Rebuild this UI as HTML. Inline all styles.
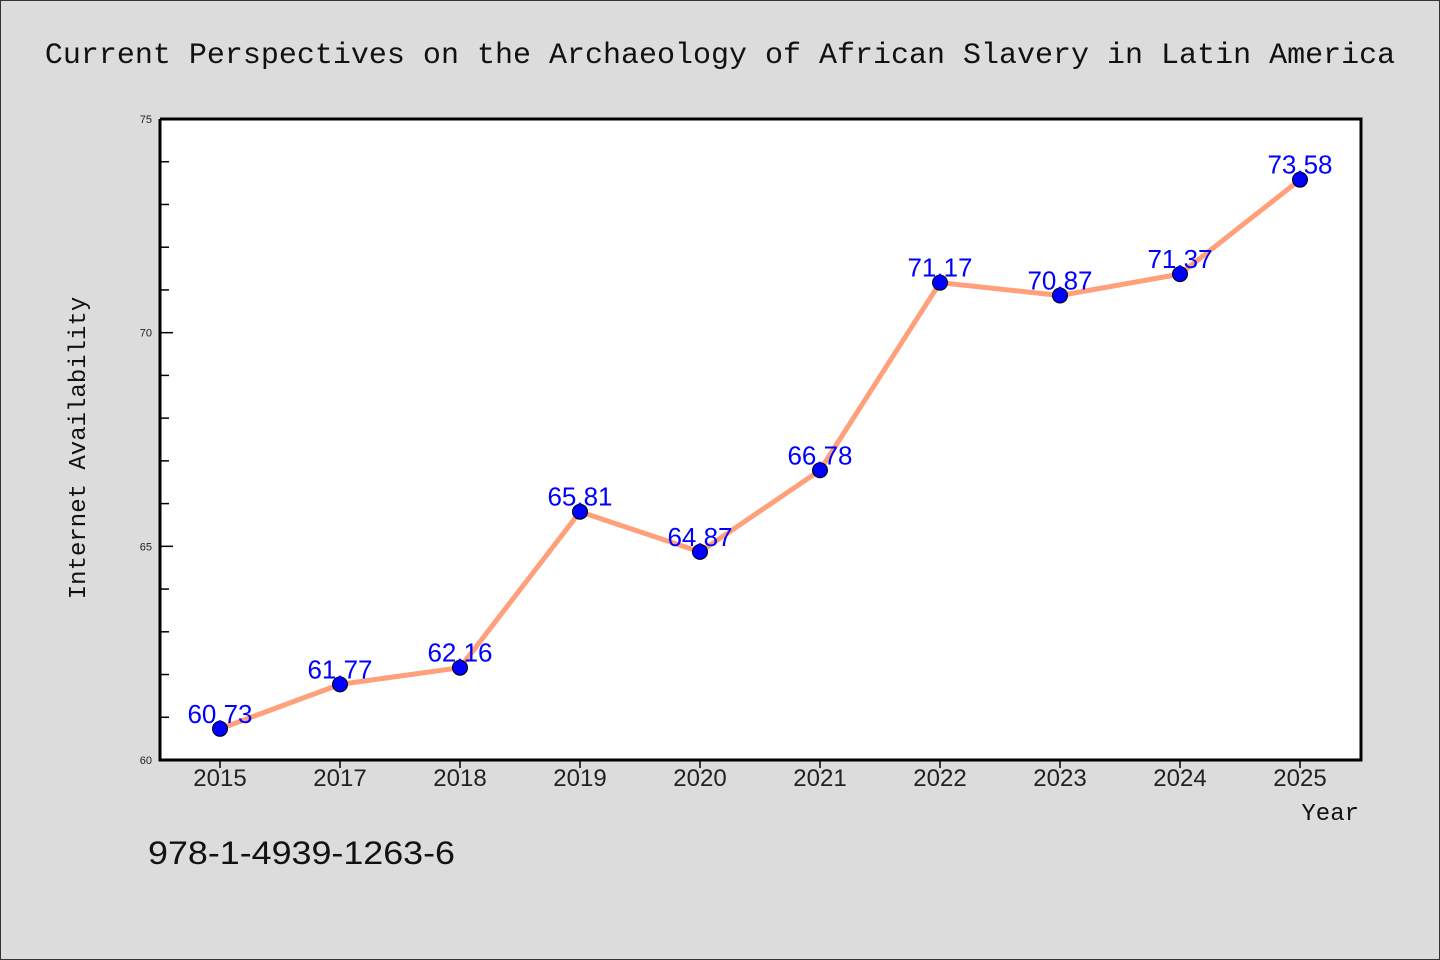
<!DOCTYPE html>
<html><head><meta charset="utf-8"><style>
html,body{margin:0;padding:0;background:#dcdcdc;}
svg{display:block;}
</style></head><body>
<svg width="1440" height="960" xmlns="http://www.w3.org/2000/svg">
<rect x="0.5" y="0.5" width="1439" height="959" fill="#dcdcdc" stroke="#333"/>
<text x="720" y="63" text-anchor="middle" font-family="'Liberation Mono','WenQuanYi Zen Hei',monospace" font-size="30" fill="#111">Current Perspectives on the Archaeology of African Slavery in Latin America</text>
<rect x="160" y="119" width="1201" height="641" fill="#fff"/>
<g id="axes"></g>
<g id="marks"></g>
<path d="M160 119 V760 H1361 V119 H160" fill="none" stroke="#000" stroke-width="3"/>
<text transform="translate(85,448) rotate(-90)" text-anchor="middle" font-family="'Liberation Mono','WenQuanYi Zen Hei',monospace" font-size="24" fill="#111">Internet Availability</text>
<text x="1359" y="820" text-anchor="end" font-family="'Liberation Mono','WenQuanYi Zen Hei',monospace" font-size="24" fill="#111">Year</text>
<text x="148" y="864" textLength="307" lengthAdjust="spacingAndGlyphs" font-family="'Liberation Sans','WenQuanYi Zen Hei',sans-serif" font-size="32" fill="#111">978-1-4939-1263-6</text>
</svg>
<script>
const categories = ["2015","2017","2018","2019","2020","2021","2022","2023","2024","2025"];
const values = [60.73,61.77,62.16,65.81,64.87,66.78,71.17,70.87,71.37,73.58];
const valueLabels = ["60.73","61.77","62.16","65.81","64.87","66.78","71.17","70.87","71.37","73.58"];
const yTickLabels = ["60","65","70","75"];
const NS="http://www.w3.org/2000/svg";
const yMin=60,yMax=75,plotTop=119,plotBottom=760,x0=220,step=120;
function yScale(v){return plotBottom-(v-yMin)/(yMax-yMin)*(plotBottom-plotTop);}
function xScale(i){return x0+i*step;}
function mk(t,a,p){const e=document.createElementNS(NS,t);for(const k in a)e.setAttribute(k,a[k]);p.appendChild(e);return e;}
const axesG=document.getElementById('axes'),marksG=document.getElementById('marks');
for(let v=yMin;v<=yMax;v++){
  const major=(v%5===0);
  const t=mk('line',{x1:160,x2:major?173:169,y1:yScale(v),y2:yScale(v),stroke:'#000','stroke-width':1.5},axesG);
  
  
}
yTickLabels.forEach(s=>{
  const t=mk('text',{x:152,y:yScale(+s)+4,'text-anchor':'end','font-family':"'Liberation Sans',sans-serif",'font-size':11,fill:'#222'},axesG);
  t.textContent=s;
  
  
});
categories.forEach((c,i)=>{
  const l=mk('line',{x1:xScale(i),x2:xScale(i),y1:760,y2:768,stroke:'#000','stroke-width':1.5},axesG);
  
  
  const t=mk('text',{x:xScale(i),y:786,'text-anchor':'middle','font-family':"'Liberation Sans','WenQuanYi Zen Hei',sans-serif",'font-size':24,fill:'#222'},axesG);
  t.textContent=c;
  
  
});
const line=mk('polyline',{points:values.map((v,i)=>xScale(i)+','+yScale(v)).join(' '),fill:'none',stroke:'#ffa07a','stroke-width':5,'stroke-linejoin':'round'},marksG);


values.forEach((v,i)=>{
  const c=mk('circle',{cx:xScale(i),cy:yScale(v),r:7.5,fill:'#0000ff',stroke:'#000','stroke-width':1},marksG);
  
  
  const t=mk('text',{x:xScale(i),y:yScale(v)-6,'text-anchor':'middle','font-family':"'Liberation Sans','WenQuanYi Zen Hei',sans-serif",'font-size':26,fill:'#0000ff'},marksG);
  t.textContent=valueLabels[i];
  
  
});
</script>
</body></html>
